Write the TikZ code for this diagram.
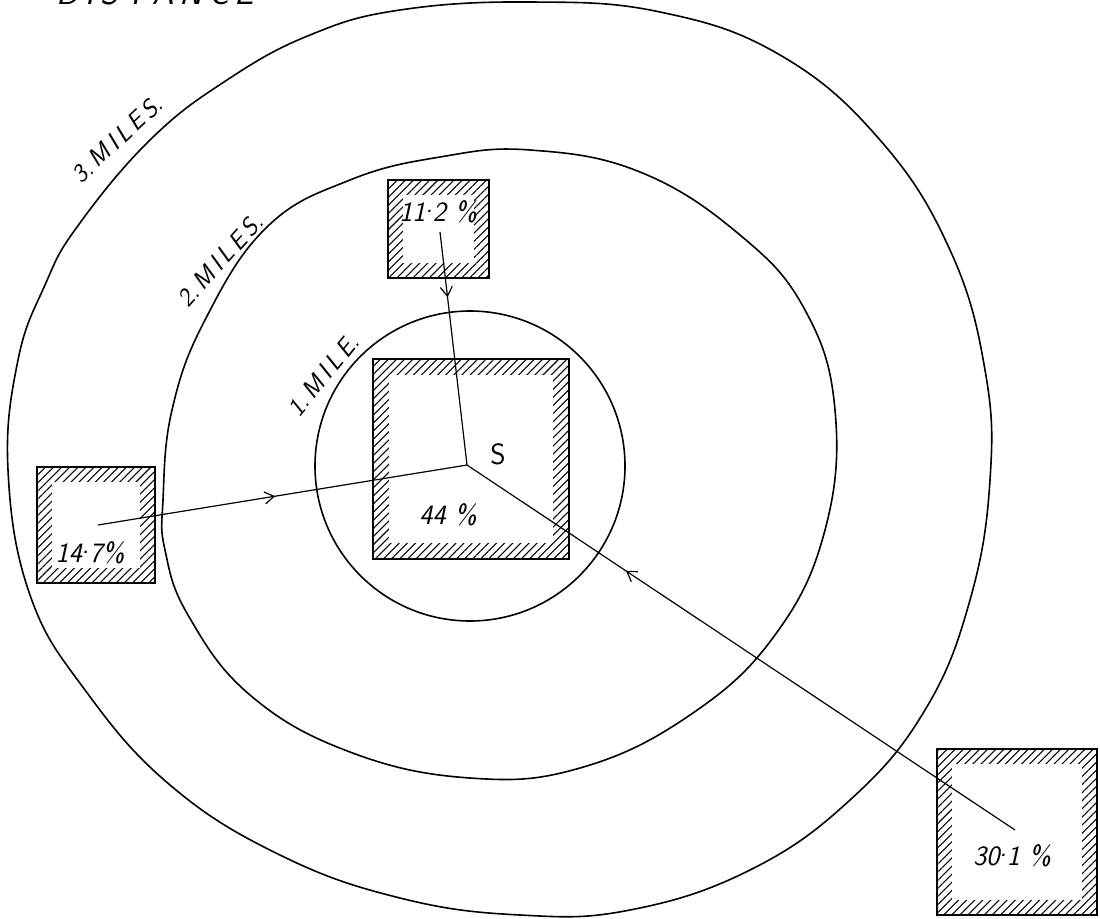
\documentclass[tikz,border=0pt]{standalone}
\usepackage{fontspec}
\usetikzlibrary{arrows.meta,patterns.meta,decorations.markings}
\newcommand{\md}{\raisebox{0.32em}{.}}
\tikzset{
  ring/.style={line width=1.2pt},
  hatchbox/.style={draw, line width=1.8pt, inner sep=0pt,
    pattern={Lines[angle=45,distance=4.3pt,line width=0.8pt]}},
  clearbox/.style={fill=white, inner sep=0pt},
  pct/.style={font=\fontsize{21}{24}\sffamily\slshape, inner sep=0.75pt},
  milelabel/.style={font=\fontsize{19}{22}\sffamily\slshape, inner sep=0.75pt},
  conn/.style={line width=0.9pt},
  midarrow/.style={postaction={decorate}, decoration={markings,
    mark=at position #1 with {\arrow{Straight Barb[length=7pt,width=9pt,line width=0.9pt]}}}}
}
\begin{document}
\begin{tikzpicture}[x=0.75pt,y=0.75pt,yscale=-1,xscale=1]
\useasboundingbox (0,0) rectangle (1100,918);

%Title (cut off at top)
\node[font=\fontsize{26}{30}\sffamily\slshape, anchor=base west, inner sep=0pt] (title) at (56,4) {D\,I\,S\,T\,A\,N\,C\,E};

%3 miles
\draw[ring] plot[smooth cycle, tension=0.7] coordinates {(8,470) (18,360) (45,285) (77,227) (150,140) (227,80) (310,35) (400,10) (530,2) (660,12) (780,55) (880,140) (950,250) (985,370) (990,480) (970,600) (925,710) (850,800) (750,870) (630,910) (520,915) (400,898) (280,855) (170,785) (85,690) (30,595)};
%2 miles
\draw[ring] plot[smooth cycle, tension=0.7] coordinates {(163,500) (172,410) (205,320) (267,227) (350,180) (440,157) (530,150) (640,172) (740,235) (805,310) (835,410) (825,530) (775,635) (690,715) (580,768) (470,778) (350,752) (250,695) (188,615) (165,550)};
%1 mile
\draw[ring] (470,466) circle (155);

% Mile labels
\node[milelabel, rotate=43] (lab3) at (117,139) {3.\,M\,I\,L\,E\,S.};
\node[milelabel, rotate=48] (lab2) at (220,260) {2.\,M\,I\,L\,E\,S.};
\node[milelabel, rotate=51] (lab1) at (323,375) {1.\,M\,I\,L\,E.};

% Boxes
\node[hatchbox, minimum width=75.75pt, minimum height=73.5pt] (b112) at (438.5,229) {};
\node[clearbox, minimum width=53.25pt, minimum height=51pt] (c112) at (438.5,229) {};
\node[hatchbox, minimum width=147pt, minimum height=150pt] (b44) at (471,459) {};
\node[clearbox, minimum width=123pt, minimum height=126pt] (c44) at (471,459) {};
\node[hatchbox, minimum width=88.5pt, minimum height=87pt] (b147) at (96,525) {};
\node[clearbox, minimum width=66pt, minimum height=64.5pt] (c147) at (96,525) {};
\node[hatchbox, minimum width=120pt, minimum height=124.5pt] (b301) at (1017,832) {};
\node[clearbox, minimum width=97.5pt, minimum height=102pt] (c301) at (1017,832) {};

% Texts
\node[pct] (t112) at (438,212) {11\md2 \%};
\node[pct] (t44) at (448,515) {44 \%};
\node[pct] (t147) at (90,553) {14\md7\%};
\node[pct] (t301) at (1012,856) {30\md1 \%};
\node[font=\fontsize{22}{26}\sffamily, inner sep=0.75pt] (slabel) at (498,454) {S};

% Connectors
\coordinate (src) at (467,465);
\coordinate (from112) at (440,232);
\coordinate (from147) at (98,525);
\coordinate (from301) at (1015,830);
\draw[conn, midarrow=0.28] (from112) -- (src);
\draw[conn, midarrow=0.48] (from147) -- (src);
\draw[conn, midarrow=0.71] (from301) -- (src);

\end{tikzpicture}
\end{document}
